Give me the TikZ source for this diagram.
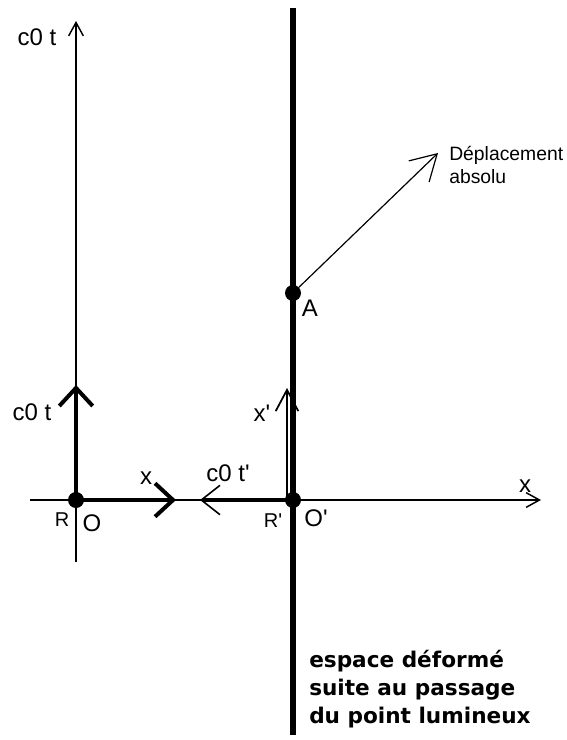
\documentclass[tikz,border=0pt]{standalone}
\usepackage{fontspec}
\setmainfont[Ligatures=NoCommon,Mapping=]{Liberation Sans}
\newfontfamily\comicfont{DejaVu Sans}
\usetikzlibrary{arrows.meta}
\newcommand{\sq}{\char39\relax}
\begin{document}
\begin{tikzpicture}[x=0.75pt,y=-0.75pt,
  axis/.style={line width=1.1pt},
  thickarr/.style={line width=3pt,-{Straight Barb[length=13.5pt,width=25pt,line width=3pt]}},
  axhead/.style={-{Straight Barb[length=10pt,width=11pt,line width=1.1pt]}},
  dot/.style={circle,fill=black,inner sep=0pt,minimum size=12pt},
  lab/.style={font=\fontsize{18}{20}\selectfont},
  rlab/.style={font=\fontsize{15}{17}\selectfont},
  comic/.style={font=\comicfont\bfseries\fontsize{16.2}{19}\selectfont,anchor=base west,inner sep=0pt}
]
\useasboundingbox (0,0) rectangle (567,740);
% coordinates
\coordinate (Ytop) at (76,21);
\coordinate (Ybot) at (76,562);
\coordinate (Xleft) at (30,500);
\coordinate (Xright) at (541,500);
\coordinate (Ltop) at (293,8);
\coordinate (Lbot) at (293,735);
\coordinate (Ctip) at (76,385);
\coordinate (Xtip) at (176,500);
\coordinate (Cptip) at (200,500);
\coordinate (Xpbase) at (287,500);
\coordinate (Xptip) at (287,388);
\coordinate (Dtip) at (438,153);
% axes
\draw[axis,axhead] (Ybot) -- (Ytop);
\draw[axis,axhead] (Xleft) -- (Xright);
% thick line
\draw[line width=4.5pt] (Ltop) -- (Lbot);
% dots
\node[dot] (O) at (76,500) {};
\node[dot] (Op) at (293,500) {};
\node[dot] (A) at (293,293) {};
% thick arrows at O
\draw[thickarr] (O.center) -- (Ctip);
\draw[thickarr] (O.center) -- (Xtip);
% c0 t' arrow
\draw[line width=3pt,-{Straight Barb[length=14pt,width=22pt,line width=1.2pt]}] (Op.center) -- (Cptip);
% x' arrow
\draw[line width=1.6pt,-{Straight Barb[length=16pt,width=17pt,line width=1.3pt]}] (Xpbase) -- (Xptip);
% deplacement arrow
\draw[line width=0.9pt,-{Straight Barb[length=19pt,width=22pt,line width=0.9pt]}] (A) -- (Dtip);
% labels
\node[lab] (l1) at (37,37) {c0 t};
\node[lab] (l2) at (32,412) {c0 t};
\node[lab] (l3) at (146,478) {x};
\node[lab] (l4) at (228,473) {c0 t\sq};
\node[lab] (l5) at (262,413) {x\sq};
\node[lab] (l6) at (525,486) {x};
\node[rlab] (l7) at (62,520) {R};
\node[lab] (l8) at (92,523) {O};
\node[rlab] (l9) at (273,521) {R\sq};
\node[lab] (l10) at (316,518) {O\sq};
\node[lab] (l11) at (310,308) {A};
\node[font=\fontsize{14.5}{17}\selectfont,align=left,anchor=north west,inner sep=0pt] (l12) at (449,146) {Déplacement\\absolu};
\node[comic] (b1) at (309,667) {espace déformé};
\node[comic] (b2) at (309,695) {suite au passage};
\node[comic] (b3) at (309,723) {du point lumineux};
\end{tikzpicture}
\end{document}
